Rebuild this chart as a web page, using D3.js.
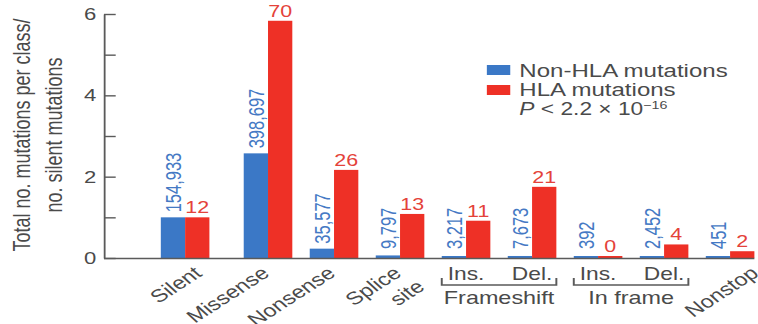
<!DOCTYPE html>
<html>
<head>
<meta charset="utf-8">
<script src="https://cdn.jsdelivr.net/npm/d3@7"></script>
<style>
  html, body { margin: 0; padding: 0; background: #fff; }
  svg { display: block; font-family: "Liberation Sans", Arial, Helvetica, sans-serif; }
</style>
</head>
<body>
<svg id="chart" width="758" height="324"></svg>
<script>
// Mutation classes, in plotting order
const categories = ["Silent", "Missense", "Nonsense", "Splice site",
  "Frameshift Ins.", "Frameshift Del.", "In frame Ins.", "In frame Del.", "Nonstop"];
// Raw mutation counts per class
const nonHlaCounts = [154933, 398697, 35577, 9797, 3217, 7673, 392, 2452, 451];
const hlaCounts = [12, 70, 26, 13, 11, 21, 0, 4, 2];
// Axis ticks
const yTicks = [0, 1, 2, 3, 4, 5, 6];
const yTickLabels = ["0", "", "2", "", "4", "", "6"];
// Text shown under each bar pair
const categoryLabels = [["Silent"], ["Missense"], ["Nonsense"], ["Splice", "site"],
  ["Ins."], ["Del."], ["Ins."], ["Del."], ["Nonstop"]];
const groupNames = ["Frameshift", "In frame"];
const groupMembers = [["Frameshift Ins.", "Frameshift Del."], ["In frame Ins.", "In frame Del."]];
const seriesNames = ["Non-HLA mutations", "HLA mutations"];
const pValueText = ["P", " < 2.2 \u00d7 10", "\u221216"];

const BLUE = "#3b78c6", RED = "#ee3026";
const BLUE_TXT = "#4579c4", RED_TXT = "#e4423a";
const INK = "#4a4a4a", AXIS = "#5a5a5a";

// Figure is set in a horizontally widened frame
const SX = 1.3;
const svg = d3.select("#chart");
const root = svg.append("g").attr("transform", `scale(${SX},1)`);

// Each class is normalised by its series' silent count
const rows = categories.map((c, i) => ({
  cat: c,
  vals: [
    { key: "nonHLA", count: nonHlaCounts[i], ratio: nonHlaCounts[i] / nonHlaCounts[0] },
    { key: "HLA", count: hlaCounts[i], ratio: hlaCounts[i] / hlaCounts[0] }
  ]
}));

const axisX = 80;
const baseY = 258;
const y = d3.scaleLinear().domain([0, 6]).range([baseY, 14]);
const x = d3.scaleBand().domain(categories).range([130, 587])
  .paddingInner(0.264).paddingOuter(0.132);
const xs = d3.scaleBand().domain(["nonHLA", "HLA"]).range([0, x.bandwidth()]);

// Silent pair sits slightly apart from the others
const barShift = { "Silent": -13 };
const labelNudge = { "Silent": -1, "Nonstop": 21 };
const groupX = c => x(c) + (barShift[c] || 0);

// Bars
const g = root.append("g");
const pair = g.selectAll("g.pair").data(rows).join("g")
  .attr("class", "pair")
  .attr("transform", d => `translate(${groupX(d.cat)},0)`);

pair.selectAll("rect").data(d => d.vals).join("rect")
  .attr("x", d => xs(d.key))
  .attr("width", xs.bandwidth())
  .attr("y", d => Math.min(y(d.ratio), baseY - 2))
  .attr("height", d => baseY - Math.min(y(d.ratio), baseY - 2))
  .attr("fill", d => d.key === "nonHLA" ? BLUE : RED);

// Count labels: rotated for non-HLA, upright for HLA
pair.each(function (d) {
  const sel = d3.select(this);
  const b = d.vals[0], r = d.vals[1];
  const by = Math.min(y(b.ratio) - 5, baseY - 9);
  sel.append("g")
    .attr("transform", `translate(${xs("nonHLA") + xs.bandwidth() / 2},${by}) rotate(-90)`)
    .append("text")
    .attr("dy", "0.36em")
    .attr("font-size", 16.5)
    .attr("fill", BLUE_TXT)
    .text(d3.format(",")(b.count));
  sel.append("text")
    .attr("x", xs("HLA") + xs.bandwidth() / 2)
    .attr("y", Math.min(y(r.ratio), baseY - 2) - 4)
    .attr("text-anchor", "middle")
    .attr("font-size", 16.5)
    .attr("fill", RED_TXT)
    .text(r.count);
});

// Y axis, ticks pointing into the plot
const yAxis = d3.axisLeft(y).tickValues(yTicks)
  .tickFormat((v, i) => yTickLabels[i])
  .tickSizeInner(-9).tickSizeOuter(0).tickPadding(6);
const ya = root.append("g").attr("transform", `translate(${axisX},0)`).call(yAxis);
ya.select(".domain").attr("stroke", AXIS).attr("stroke-width", 1.4);
ya.selectAll(".tick line").attr("stroke", AXIS).attr("stroke-width", 1.4);
ya.selectAll(".tick text").attr("font-size", 17).attr("fill", INK)
  .attr("font-family", "Liberation Sans, Arial, sans-serif");

// Baseline
const lastCat = categories[categories.length - 1];
root.append("line")
  .attr("x1", axisX).attr("x2", x(lastCat) + x.bandwidth())
  .attr("y1", baseY + 0.5).attr("y2", baseY + 0.5)
  .attr("stroke", AXIS).attr("stroke-width", 1.5);

// Y axis title
const title = root.append("g")
  .attr("transform", `translate(0,135) rotate(-90)`)
  .append("text")
  .attr("text-anchor", "middle").attr("font-size", 18).attr("fill", INK);
title.append("tspan").attr("x", 0).attr("y", 23).text("Total no. mutations per class/");
title.append("tspan").attr("x", 0).attr("y", 47.5).text("no. silent mutations");

// Category labels
const bracketed = new Set(groupMembers.flat());
categories.forEach((c, i) => {
  const cx = x(c) + x.bandwidth() / 2;
  if (bracketed.has(c)) {
    root.append("text")
      .attr("x", cx).attr("y", 280)
      .attr("text-anchor", "middle").attr("font-size", 17.5).attr("fill", INK)
      .text(categoryLabels[i][0]);
    return;
  }
  const lg = root.append("g")
    .attr("transform", `translate(${cx + 2 + (labelNudge[c] || 0)},275) rotate(-40)`);
  categoryLabels[i].forEach((line, k) => {
    lg.append("text")
      .attr("x", k * 5).attr("y", k * 22)
      .attr("text-anchor", "end").attr("font-size", 18).attr("fill", INK)
      .text(line);
  });
});

// Group brackets
groupMembers.forEach((m, gi) => {
  const x1 = x(m[0]), x2 = x(m[m.length - 1]) + x.bandwidth();
  root.append("path")
    .attr("d", `M${x1},278 V285 H${x2} V278`)
    .attr("fill", "none").attr("stroke", AXIS).attr("stroke-width", 1.5);
  root.append("text")
    .attr("x", (x1 + x2) / 2).attr("y", 304)
    .attr("text-anchor", "middle").attr("font-size", 18).attr("fill", INK)
    .text(groupNames[gi]);
});

// Legend
const legend = root.append("g");
[BLUE, RED].forEach((col, i) => {
  legend.append("rect")
    .attr("x", 374.5).attr("y", 65 + i * 20).attr("width", 18).attr("height", 10)
    .attr("fill", col);
  legend.append("text")
    .attr("x", 399.5).attr("y", 77 + i * 19)
    .attr("font-size", 18.5).attr("fill", INK)
    .text(seriesNames[i]);
});
const pv = legend.append("text").attr("x", 399.5).attr("y", 115)
  .attr("font-size", 17.5).attr("fill", INK);
pv.append("tspan").attr("font-style", "italic").text(pValueText[0]);
pv.append("tspan").text(pValueText[1]);
pv.append("tspan").attr("font-size", 11).attr("dy", -6).text(pValueText[2]);
</script>
</body>
</html>
